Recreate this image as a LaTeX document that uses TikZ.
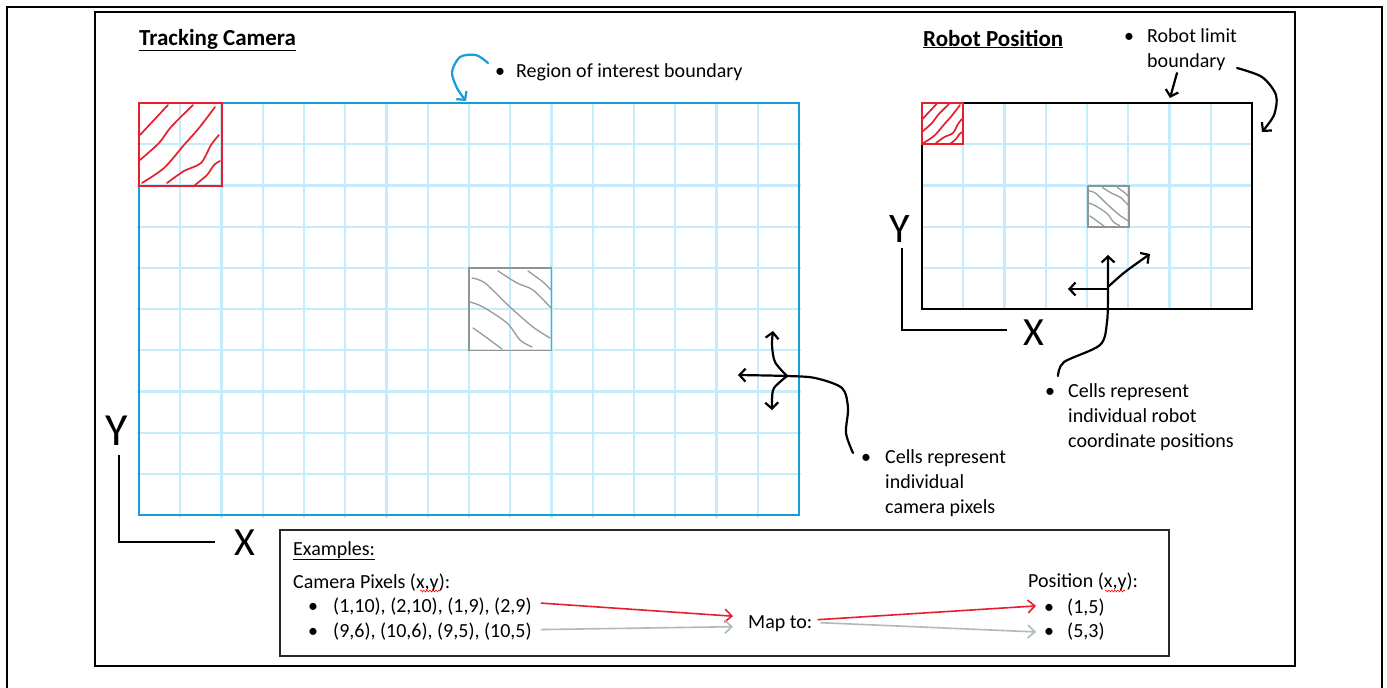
\documentclass[tikz,border=0pt]{standalone}
\usepackage{fontspec}
\setmainfont{Carlito}
\usetikzlibrary{arrows.meta,decorations.pathmorphing,calc}
\definecolor{gridblue}{RGB}{198,235,250}
\definecolor{roiblue}{RGB}{22,158,216}
\definecolor{hatchred}{RGB}{230,30,45}
\definecolor{hatchgray}{RGB}{150,155,155}
\definecolor{cellgray}{RGB}{140,150,150}
\definecolor{arrowgray}{RGB}{175,185,190}
\definecolor{framegray}{RGB}{40,40,40}
\newcommand\drawredhatch{%
  \draw[redhatch] plot[smooth] coordinates {(1,32) (15,17) (29,2)};
  \draw[redhatch] plot[smooth] coordinates {(1,57) (20,40) (32,24) (54,2)};
  \draw[redhatch] plot[smooth] coordinates {(3,80) (25,65) (45,42) (60,25) (76,4)};
  \draw[redhatch] plot[smooth] coordinates {(28,80) (45,68) (62,60) (72,42) (80,32)};
  \draw[redhatch] plot[smooth] coordinates {(56,82) (68,72) (75,62) (81,58)};
  \draw[hatchred, line width=2pt] (0,0) rectangle (82.5,82.5);
}
\newcommand\drawgrayhatch{%
  \draw[grayhatch] plot[smooth] coordinates {(3,10) (16,15) (41,39) (64,59) (81,70)};
  \draw[grayhatch] plot[smooth] coordinates {(1,34) (14,39) (38,55) (51,72) (63,79)};
  \draw[grayhatch] plot[smooth] coordinates {(4,60) (14,67) (33,81)};
  \draw[grayhatch] plot[smooth] coordinates {(29,3) (48,15) (64,22) (82,40)};
  \draw[grayhatch] plot[smooth] coordinates {(59,3) (74,14) (82,22)};
  \draw[cellgray, line width=1.6pt] (0,0) rectangle (82.5,82.5);
}
\begin{document}
\begin{tikzpicture}[x=1pt,y=-1pt,
  lbl/.style={font=\fontsize{20}{25}\selectfont, inner sep=0pt, anchor=base west},
  multilbl/.style={font=\fontsize{20}{25}\selectfont, inner sep=0pt, anchor=north west, align=left},
  bul/.style={font=\fontsize{20}{25}\selectfont, inner sep=0pt, anchor=base},
  title/.style={font=\fontsize{23}{28}\selectfont\bfseries, inner sep=0pt, anchor=base west},
  axislbl/.style={inner sep=0pt},
  gridline/.style={gridblue, line width=2.2pt},
  hand/.style={line width=2.2pt, -{Straight Barb[length=6pt,width=13pt]}, line cap=round, line join=round},
  redhatch/.style={hatchred, line width=1.7pt, line cap=round},
  grayhatch/.style={hatchgray, line width=1.3pt, line cap=round},
  exarrow/.style={line width=1.6pt, -{Straight Barb[length=7pt,width=13pt]}},
  squiggle/.style={red, line width=0.6pt, decorate, decoration={snake, amplitude=0.9pt, segment length=3pt}}
]
\useasboundingbox (0,0) rectangle (1387,688);
\fill[white] (0,0) rectangle (1387,688);

% frames
\draw[line width=2.5pt] (7,690) -- (7,7) -- (1382,7) -- (1382,690);
\draw[line width=1.6pt] (95,12) rectangle (1295,666);

% camera grid
\foreach \i in {1,...,15} \draw[gridline] ({139+41.25*\i},103) -- ({139+41.25*\i},518);
\foreach \j in {1,...,9} \draw[gridline] (137,{103+41.2*\j}) -- (801,{103+41.2*\j});
\draw[roiblue, line width=2pt] (139,103) rectangle (799,515);

% robot grid
\foreach \i in {1,...,7} \draw[gridline] ({922+41.25*\i},103) -- ({922+41.25*\i},309);
\foreach \j in {1,...,4} \draw[gridline] (922,{103+41.2*\j}) -- (1252,{103+41.2*\j});
\draw[black, line width=2pt] (922,103) rectangle (1252,309);

% hatched cells
\begin{scope}[shift={(139,103)}] \drawredhatch \end{scope}
\begin{scope}[shift={(469,268)}] \drawgrayhatch \end{scope}
\begin{scope}[shift={(922,103)}, scale=0.5] \drawredhatch \end{scope}
\begin{scope}[shift={(1088,186)}, scale=0.5] \drawgrayhatch \end{scope}

% titles
\node[title] (tctitle) at (139,45) {\underline{Tracking Camera}};
\node[title] (rptitle) at (923,46) {\underline{Robot Position}};

% annotations
\node[bul] (roib) at (500,77) {•};
\node[lbl] (roi) at (516,77) {Region of interest boundary};
\node[bul] (rlb) at (1129,42) {•};
\node[multilbl] (rl) at (1147,28) {Robot limit\\boundary};
\node[bul] (ccb) at (866,463) {•};
\node[multilbl] (cc) at (885,449) {Cells represent\\individual\\camera pixels};
\node[bul] (rcb) at (1050,397) {•};
\node[multilbl] (rc) at (1068,383) {Cells represent\\individual robot\\coordinate positions};

% axes
\coordinate (cytop) at (119,455); \coordinate (corig) at (119,542); \coordinate (cxend) at (215,542);
\draw[line width=2pt] (cytop) -- (corig) -- (cxend);
\node[axislbl, font=\fontsize{46}{50}\selectfont] (cY) at (117,431) {Y};
\node[axislbl, font=\fontsize{40}{46}\selectfont] (cX) at (245,543) {X};
\coordinate (rytop) at (902,248); \coordinate (rorig) at (902,330); \coordinate (rxend) at (1007,330);
\draw[line width=2pt] (rytop) -- (rorig) -- (rxend);
\node[axislbl, font=\fontsize{42}{46}\selectfont] (rY) at (900,229) {Y};
\node[axislbl, font=\fontsize{40}{46}\selectfont] (rX) at (1034,333) {X};

% hand-drawn arrows: camera
\coordinate (roiS) at (488,63); \coordinate (roiE) at (466,101);
\draw[hand, roiblue] plot[smooth] coordinates {(roiS) (476,55) (460,57) (452,72) (457,88) (roiE)};
\coordinate (ccS) at (853,453); \coordinate (ccC) at (787,376); \coordinate (ccL) at (738,375);
\coordinate (ccU) at (773,331); \coordinate (ccD) at (772,410);
\draw[hand] plot[smooth] coordinates {(ccS) (846,433) (848,408) (842,388) (815,378) (ccC) (ccL)};
\draw[hand] plot[smooth] coordinates {(ccC) (775,362) (772,345) (ccU)};
\draw[hand] plot[smooth] coordinates {(ccC) (774,388) (772,400) (ccD)};

% hand-drawn arrows: robot
\coordinate (rcS) at (1058,376); \coordinate (rcC) at (1108,289); \coordinate (rcU) at (1108,255);
\coordinate (rcL) at (1068,289); \coordinate (rcDg) at (1150,254);
\draw[hand] plot[smooth] coordinates {(rcS) (1064,362) (1100,345) (1107,322) (rcC) (rcU)};
\draw[hand] (rcC) -- (rcL);
\draw[hand] plot[smooth] coordinates {($(rcC)+(1,-3)$) (1125,272) (rcDg)};
\coordinate (rlS1) at (1177,73); \coordinate (rlE1) at (1170,98);
\draw[hand] (rlS1) -- (rlE1);
\coordinate (rlS2) at (1237,68); \coordinate (rlE2) at (1262,132);
\draw[hand] plot[smooth] coordinates {(rlS2) (1262,77) (1276,95) (1274,115) (rlE2)};

% examples box
\node[draw=framegray, line width=2pt, minimum width=889pt, minimum height=126pt, anchor=north west, inner sep=0pt] (exbox) at (279,529) {};
\node[lbl] (exh) at (293,555) {\underline{Examples:}};
\node[lbl] (campix) at (293,588) {Camera Pixels (x,y):};
\node[bul] (eb1) at (313,612) {•};
\node[lbl] (ex1) at (333,612) {(1,10), (2,10), (1,9), (2,9)};
\node[bul] (eb2) at (313,637) {•};
\node[lbl] (ex2) at (333,637) {(9,6), (10,6), (9,5), (10,5)};
\node[lbl] (mapto) at (748,628) {Map to:};
\node[lbl] (pos) at (1028,587) {Position (x,y):};
\node[bul] (pb1) at (1049,613) {•};
\node[lbl] (p1) at (1067,613) {(1,5)};
\node[bul] (pb2) at (1049,637) {•};
\node[lbl] (p2) at (1067,637) {(5,3)};
\draw[squiggle] (420,591) -- (440,591);
\draw[squiggle] (1105,591) -- (1125,591);

\draw[exarrow, hatchred] ($(ex1.east)+(9,-3)$) -- ($(mapto.west)+(-15,-7)$);
\draw[exarrow, arrowgray] ($(ex2.east)+(9,-1.5)$) -- ($(mapto.west)+(-15,3.5)$);
\draw[exarrow, hatchred] ($(mapto.east)+(5,-3.5)$) -- ($(pb1.center)+(-13,-2.5)$);
\draw[exarrow, arrowgray] ($(mapto.east)+(8,-0.5)$) -- ($(pb2.center)+(-13,-0.5)$);
\end{tikzpicture}
\end{document}
